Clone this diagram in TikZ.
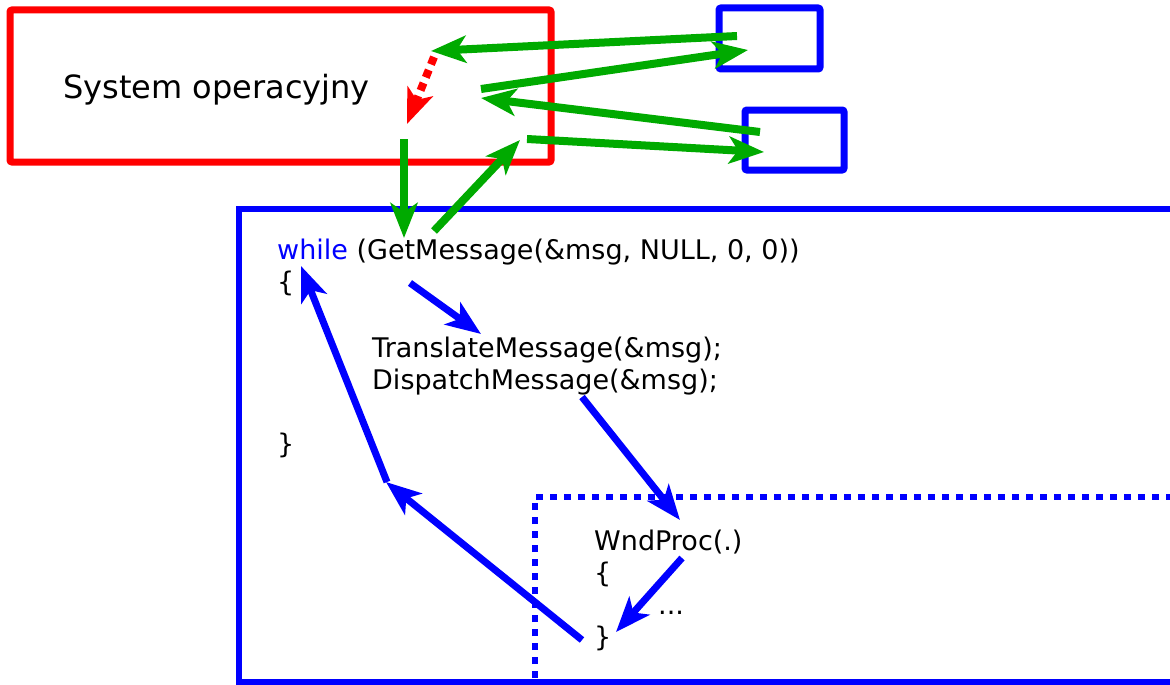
\documentclass[tikz,border=0pt]{standalone}
\usepackage{fontspec}
\setmainfont{DejaVu Sans}
\usetikzlibrary{arrows.meta}
\definecolor{osred}{RGB}{255,0,0}
\definecolor{msgblue}{RGB}{0,0,255}
\definecolor{msggreen}{RGB}{0,170,0}
\tikzset{
  bigtip/.tip={Stealth[length=35pt,width=27pt,inset=9pt]},
  frame/.style={line width=7pt, rounded corners=2pt},
  flow/.style={line width=8pt, msggreen, -bigtip},
  call/.style={line width=7pt, msgblue, -bigtip},
  code/.style={inner sep=0pt, anchor=base west, font=\fontsize{27}{32}\selectfont},
}
\begin{document}
\begin{tikzpicture}[x=1pt,y=-1pt]
\useasboundingbox (0,0) rectangle (1170,685);
\clip (0,0) rectangle (1170,685);

% operating system and the two windows
\draw[frame, osred] (10,10) rectangle (551,162);
\node[inner sep=0pt, anchor=base west, font=\fontsize{32}{38}\selectfont] (os) at (63,99) {System operacyjny};
\draw[frame, msgblue] (719,8) rectangle (820,69);
\draw[frame, msgblue] (745,110) rectangle (844,170);

% application and window procedure
\draw[line width=6pt, msgblue] (1200,209) -- (239,209) -- (239,682) -- (1200,682);
\draw[line width=6pt, msgblue, dash pattern=on 7pt off 7pt] (535,692) -- (535,497) -- (1200,497);

% message loop
\node[code] (loop) at (277,259) {\textcolor{msgblue}{while} (GetMessage(\&msg, NULL, 0, 0))};
\node[code] (open) at (277,291) {\{};
\node[code] (trans) at (372,357) {TranslateMessage(\&msg);};
\node[code] (disp) at (372,389) {DispatchMessage(\&msg);};
\node[code] (close) at (277,453) {\}};

% window procedure
\node[code] (wnd) at (594,550) {WndProc(.)};
\node[code] (wopen) at (594,582) {\{};
\node[code] (body) at (658,614) {...};
\node[code] (wclose) at (594,646) {\}};

% end points of the connectors
\coordinate (g1a) at (737,36);  \coordinate (g1b) at (431,51);
\coordinate (g2a) at (481,89);  \coordinate (g2b) at (748,50);
\coordinate (g3a) at (760,132); \coordinate (g3b) at (481,98);
\coordinate (g4a) at (527,139); \coordinate (g4b) at (764,152);
\coordinate (g5a) at (404,139); \coordinate (g5b) at (404,238);
\coordinate (g6a) at (434,231); \coordinate (g6b) at (520,140);
\coordinate (r1a) at (434,57);  \coordinate (r1b) at (407,124);
\coordinate (b1a) at (410,283); \coordinate (b1b) at (481,334);
\coordinate (b2a) at (582,397); \coordinate (b2b) at (680,520);
\coordinate (b3a) at (682,558); \coordinate (b3b) at (616,632);
\coordinate (b4a) at (582,640); \coordinate (b4b) at (386,482);
\coordinate (b5a) at (387,482); \coordinate (b5b) at (301,266);

% message traffic with the system
\draw[flow] (g1a) -- (g1b);
\draw[flow] (g2a) -- (g2b);
\draw[flow] (g3a) -- (g3b);
\draw[flow] (g4a) -- (g4b);
\draw[flow] (g5a) -- (g5b);
\draw[flow] (g6a) -- (g6b);
\draw[line width=8pt, osred, dash pattern=on 8pt off 6pt, -bigtip] (r1a) -- (r1b);

% control flow in the program
\draw[call] (b1a) -- (b1b);
\draw[call] (b2a) -- (b2b);
\draw[call] (b3a) -- (b3b);
\draw[call] (b4a) -- (b4b);
\draw[call] (b5a) -- (b5b);
\end{tikzpicture}
\end{document}
